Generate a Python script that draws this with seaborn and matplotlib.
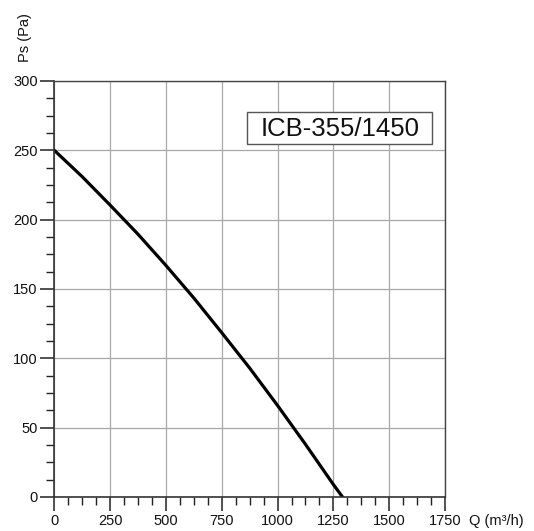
import matplotlib
matplotlib.use("Agg")
import matplotlib.pyplot as plt
import seaborn as sns
import pandas as pd
from matplotlib.patches import Rectangle
from matplotlib.ticker import MultipleLocator

# Data
flow_q = [0, 125, 250, 375, 500, 625, 750, 875, 1000, 1125, 1250, 1291]
pressure_ps = [250, 231, 210.5, 189.5, 167, 143.5, 118.5, 93, 66, 38, 9, 0]
x_ticks = [0, 250, 500, 750, 1000, 1250, 1500, 1750]
y_ticks = [0, 50, 100, 150, 200, 250, 300]
title_text = "ICB-355/1450"
x_label = "Q (m³/h)"
y_label = "Ps (Pa)"

df = pd.DataFrame({"Q": flow_q, "Ps": pressure_ps})

sns.set_style("white")
plt.rcParams['font.family'] = ['Liberation Sans', 'DejaVu Sans']

fig = plt.figure(figsize=(5.34, 5.31), dpi=100)
ax = fig.add_axes([54.3/534, 1-497/531, (445-54.3)/534, (497-81)/531])

sns.lineplot(data=df, x="Q", y="Ps", ax=ax, color="black", linewidth=2.3, sort=False)

ax.set_xlim(0, 1750)
ax.set_ylim(0, 300)
ax.set_xticks(x_ticks)
ax.set_yticks(y_ticks)
ax.set_xticklabels([str(v) for v in x_ticks])
ax.set_yticklabels([str(v) for v in y_ticks])
ax.xaxis.set_minor_locator(MultipleLocator(62.5))
ax.yaxis.set_minor_locator(MultipleLocator(12.5))
ax.grid(True, which="major", color="#a8a8a8", linewidth=0.9)
ax.set_axisbelow(True)
ax.tick_params(axis="both", which="major", direction="out", length=10, width=1.1,
               color="#222222", labelsize=10.5, labelcolor="#111111", pad=2)
ax.tick_params(axis="both", which="minor", direction="out", length=6, width=1.0,
               color="#222222")
ax.tick_params(bottom=True, left=True, which="both")
for side in ["left", "bottom"]:
    ax.spines[side].set_color("#333333")
    ax.spines[side].set_linewidth(1.2)
for side in ["top", "right"]:
    ax.spines[side].set_color("#444444")
    ax.spines[side].set_linewidth(1.0)
ax.set_xlabel("")
ax.set_ylabel("")

fig.text(469/534, 1-521/531, x_label, fontsize=10.5, va="center", ha="left", color="#111111")
fig.text(25/534, 1-38/531, y_label, fontsize=10.5, va="center", ha="center", rotation=90, color="#111111")

rect = Rectangle((247.3/534, 1-144.3/531), 185/534, 32/531, transform=fig.transFigure,
                 facecolor="white", edgecolor="#555555", linewidth=1.0, zorder=5)
fig.patches.append(rect)
fig.text(339.8/534, 1-128.5/531, title_text, fontsize=18.5, ha="center", va="center",
         color="#111111", zorder=6)

fig.savefig("out.png", dpi=100)
